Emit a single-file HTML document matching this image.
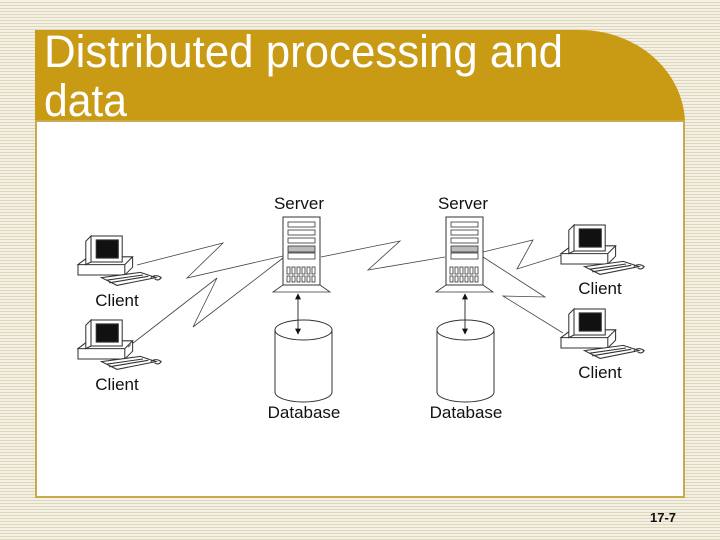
<!DOCTYPE html>
<html><head><meta charset="utf-8"><style>
body{margin:0;width:720px;height:540px;overflow:hidden;background:repeating-linear-gradient(#f4f1e4 0 2px,#dcd6bd 2px 3px);font-family:"Liberation Sans",sans-serif}
svg{position:absolute;left:0;top:0}
</style></head><body>
<svg width="720" height="540" viewBox="0 0 720 540">
<defs>
<g id="srv">
<rect x="0" y="0" width="37" height="68" fill="#fff" stroke="#333" stroke-width="1"/>
<rect x="5" y="5" width="27" height="5" fill="#fff" stroke="#333" stroke-width=".8"/>
<rect x="5" y="13" width="27" height="5" fill="#fff" stroke="#333" stroke-width=".8"/>
<rect x="5" y="21" width="27" height="5" fill="#fff" stroke="#333" stroke-width=".8"/>
<rect x="5" y="29" width="27" height="6" fill="#bbb" stroke="#333" stroke-width=".8"/>
<rect x="5" y="36" width="27" height="6" fill="#fff" stroke="#333" stroke-width=".8"/>
<g fill="none" stroke="#333" stroke-width=".8">
<rect x="4" y="50" width="3" height="7"/><rect x="9" y="50" width="3" height="7"/><rect x="14" y="50" width="3" height="7"/><rect x="19" y="50" width="3" height="7"/><rect x="24" y="50" width="3" height="7"/><rect x="29" y="50" width="3" height="7"/>
<rect x="4" y="59" width="3" height="6"/><rect x="9" y="59" width="3" height="6"/><rect x="14" y="59" width="3" height="6"/><rect x="19" y="59" width="3" height="6"/><rect x="24" y="59" width="3" height="6"/><rect x="29" y="59" width="3" height="6"/>
<path d="M0 68 L-10 75 H47 L37 68"/></g>
</g>
<g id="db" fill="#fff" stroke="#333" stroke-width="1">
<path d="M0 0 V62 A28.5 10 0 0 0 57 62 V0"/>
<ellipse cx="28.5" cy="0" rx="28.5" ry="10"/>
</g>
<g id="cl" fill="#fff" stroke="#333" stroke-width=".8">
<path d="M0 22 L8 16 H42 L36 22 Z M0 22 V30 H36 V22 M36 30 L42 24 V16"/>
<rect x="10" y="0" width="24" height="20"/>
<rect x="14" y="3" width="17" height="14" fill="#111"/>
<path d="M6 4 L10 0 V20 L6 22 Z"/>
<path d="M18 32 L48 28 L60 32 L30 38 Z M22 34 L50 30 M24 36 L54 31"/>
<path d="M56 32 q4 -3 8 0 q-2 3 -5 1" fill="none"/>
</g>
<marker id="ah" viewBox="0 0 10 10" refX="9" refY="5" markerWidth="6" markerHeight="6" orient="auto-start-reverse"><path d="M0 0L10 5L0 10Z" fill="#111"/></marker>
</defs>
<path d="M35 30 H580 A105 95 0 0 1 685 121 H35 Z" fill="#c99a14"/>
<rect x="36" y="121" width="648" height="376" fill="#fff" stroke="#c8a94d" stroke-width="2"/>
<text x="44" y="67" font-size="45" fill="#fff" textLength="519" lengthAdjust="spacingAndGlyphs">Distributed processing and</text>
<text x="44" y="116" font-size="45" fill="#fff" textLength="83" lengthAdjust="spacingAndGlyphs">data</text>
<g fill="none" stroke="#444" stroke-width=".8">
<polyline points="137,265 223,243 187,278 283,256"/>
<polyline points="128,347 217,278 193,327 283,258"/>
<polyline points="321,257 400,241 368,270 445,257"/>
<polyline points="483,252 533,240 517,269 565,254"/>
<polyline points="483,257 545,297 503,296 563,333"/>
</g>
<use href="#srv" x="283" y="217"/>
<use href="#srv" x="446" y="217"/>
<use href="#db" x="275" y="330"/>
<use href="#db" x="437" y="330"/>
<line x1="298" y1="294" x2="298" y2="334" stroke="#333" stroke-width="1" marker-start="url(#ah)" marker-end="url(#ah)"/>
<line x1="465" y1="294" x2="465" y2="334" stroke="#333" stroke-width="1" marker-start="url(#ah)" marker-end="url(#ah)"/>
<use href="#cl" transform="translate(78,236) scale(1.3)"/>
<use href="#cl" transform="translate(78,320) scale(1.3)"/>
<use href="#cl" transform="translate(561,225) scale(1.3)"/>
<use href="#cl" transform="translate(561,309) scale(1.3)"/>
<g font-size="17" fill="#111" text-anchor="middle">
<text x="299" y="209">Server</text>
<text x="463" y="209">Server</text>
<text x="304" y="418">Database</text>
<text x="466" y="418">Database</text>
<text x="117" y="306">Client</text>
<text x="117" y="390">Client</text>
<text x="600" y="294">Client</text>
<text x="600" y="378">Client</text>
</g>
<text x="663" y="522" font-size="13" font-weight="bold" text-anchor="middle" fill="#111">17-7</text>
</svg>
</body></html>
